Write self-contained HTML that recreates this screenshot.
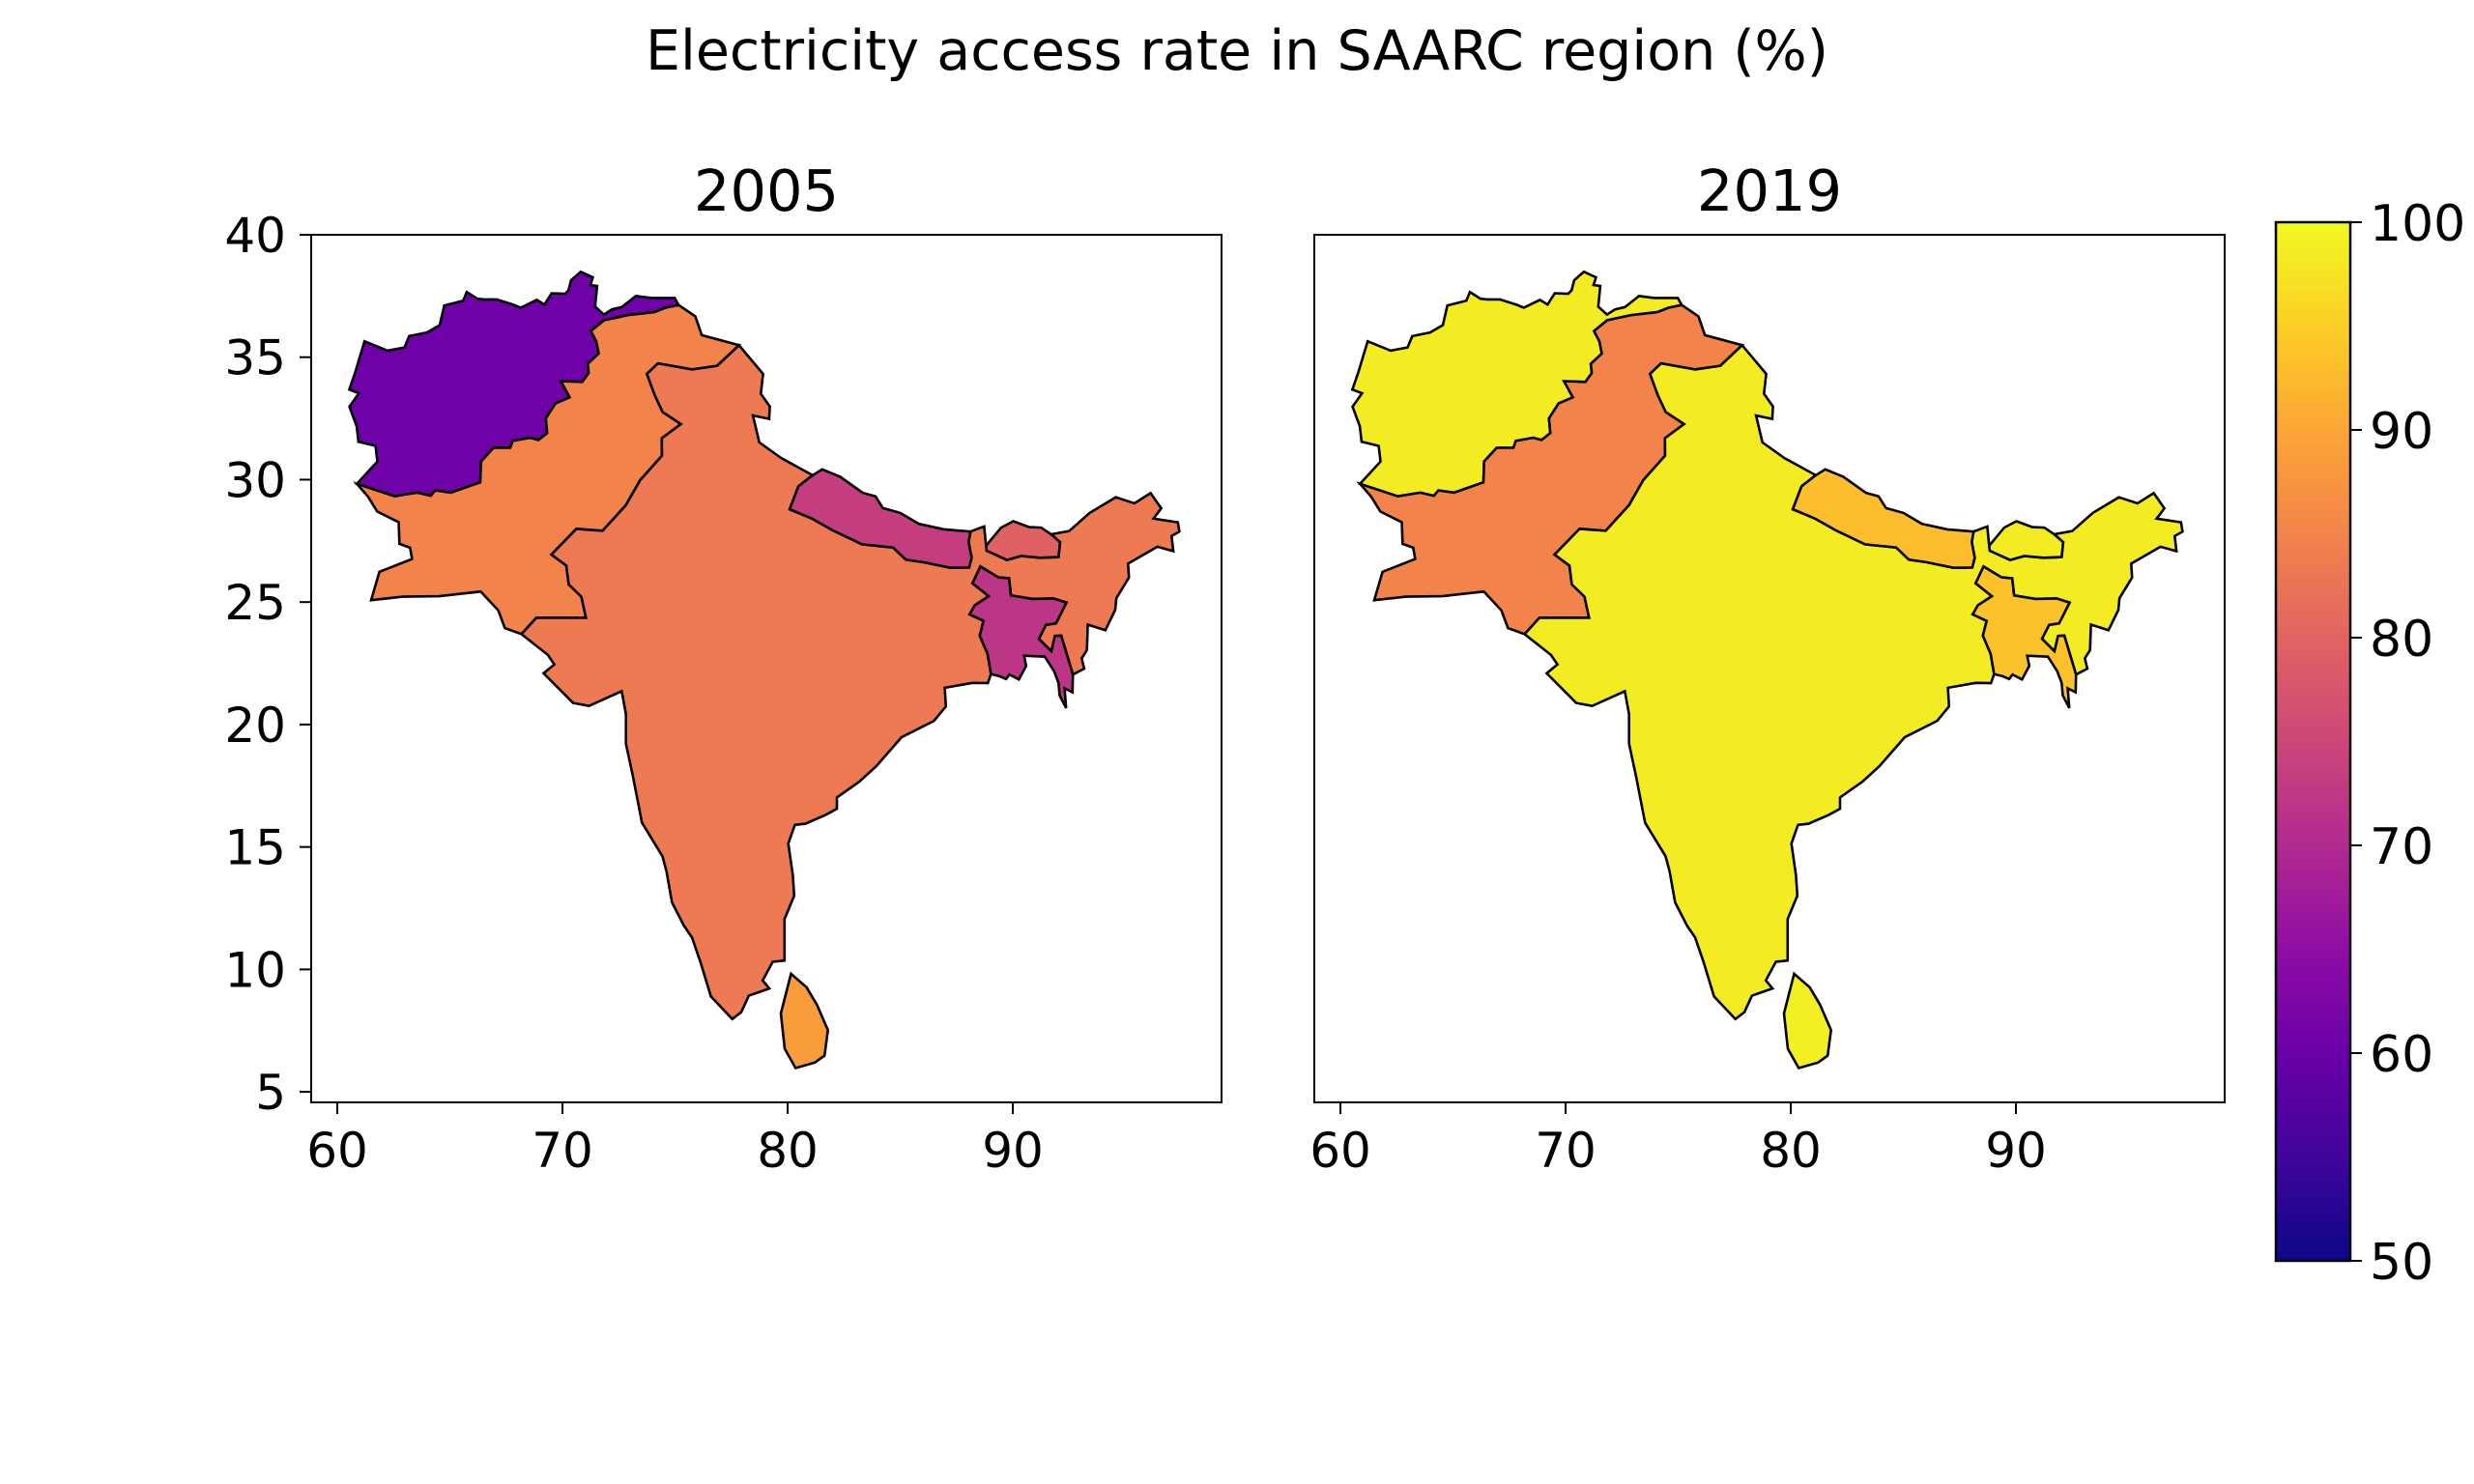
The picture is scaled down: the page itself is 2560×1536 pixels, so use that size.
<!DOCTYPE html>
<html><head><meta charset="utf-8"><style>
html,body{margin:0;padding:0;background:#fff}
svg{display:block;font-family:"DejaVu Sans","Liberation Sans",sans-serif}
</style></head><body>
<svg id="chart" width="2560" height="1536" viewBox="0 0 2560 1536">
<defs>
<linearGradient id="plasma" x1="0" y1="1" x2="0" y2="0">
<stop offset="0" stop-color="#0d0887"/><stop offset="0.1" stop-color="#41049d"/><stop offset="0.2" stop-color="#6a00a8"/><stop offset="0.3" stop-color="#8f0da4"/><stop offset="0.4" stop-color="#b12a90"/><stop offset="0.5" stop-color="#cc4778"/><stop offset="0.6" stop-color="#e16462"/><stop offset="0.7" stop-color="#f2844b"/><stop offset="0.8" stop-color="#fca636"/><stop offset="0.9" stop-color="#fcce25"/><stop offset="1" stop-color="#f0f921"/>
</linearGradient>
</defs>
<text x="1280" y="72" font-size="57" text-anchor="middle">Electricity access rate in SAARC region (%)</text>
</svg>
<script>
const countries = ["Afghanistan","Pakistan","India","Nepal","Bhutan","Bangladesh","Sri Lanka"];
const values2005 = [60.5, 85, 83.5, 73.5, 79.5, 72, 88.5];
const values2019 = [98.5, 85, 98.5, 93, 98.5, 93.5, 99];
const years = ["2005","2019"];
const xTicks = [60,70,80,90];
const yTicks = [5,10,15,20,25,30,35,40];
const cbTicks = [50,60,70,80,90,100];

const shapes = {
"Afghanistan":[[66.52,37.36],[67.08,37.36],[67.83,37.14],[68.14,37.02],[68.86,37.34],[69.2,37.15],[69.52,37.61],[70.12,37.59],[70.27,37.74],[70.38,38.14],[70.81,38.49],[71.35,38.26],[71.24,37.95],[71.54,37.91],[71.45,37.07],[71.84,36.74],[72.19,36.95],[72.64,37.05],[73.26,37.5],[73.95,37.42],[74.98,37.42],[75.16,37.13],[74.58,37.02],[74.07,36.84],[72.92,36.72],[71.85,36.51],[71.26,36.07],[71.5,35.65],[71.61,35.15],[71.12,34.73],[71.16,34.35],[70.88,33.99],[69.93,34.02],[70.32,33.36],[69.69,33.11],[69.26,32.5],[69.32,31.9],[68.93,31.62],[68.56,31.71],[67.79,31.58],[67.68,31.3],[66.94,31.3],[66.38,30.74],[66.35,29.89],[65.05,29.47],[64.35,29.56],[64.15,29.34],[63.55,29.47],[62.55,29.32],[60.87,29.83],[61.78,30.74],[61.7,31.38],[60.94,31.55],[60.86,32.18],[60.54,32.98],[60.96,33.53],[60.53,33.68],[60.8,34.4],[61.21,35.65],[62.23,35.27],[62.98,35.4],[63.19,35.86],[63.98,36.01],[64.55,36.31],[64.75,37.11],[65.59,37.31],[65.75,37.66],[66.22,37.39]],
"Pakistan":[[75.16,37.13],[75.9,36.67],[76.19,35.9],[77.84,35.49],[76.87,34.65],[75.76,34.5],[74.24,34.75],[73.75,34.32],[74.1,33.44],[74.45,32.76],[75.26,32.27],[74.41,31.69],[74.42,30.98],[73.45,29.98],[72.82,28.96],[71.78,27.91],[70.62,27.99],[69.51,26.94],[70.17,26.49],[70.28,25.72],[70.84,25.22],[71.04,24.36],[68.84,24.36],[68.18,23.69],[67.44,23.94],[67.15,24.66],[66.37,25.43],[64.53,25.24],[62.91,25.22],[61.5,25.08],[61.87,26.24],[63.32,26.76],[63.23,27.22],[62.76,27.38],[62.73,28.26],[61.77,28.7],[61.37,29.3],[60.87,29.83],[62.55,29.32],[63.55,29.47],[64.15,29.34],[64.35,29.56],[65.05,29.47],[66.35,29.89],[66.38,30.74],[66.94,31.3],[67.68,31.3],[67.79,31.58],[68.56,31.71],[68.93,31.62],[69.32,31.9],[69.26,32.5],[69.69,33.11],[70.32,33.36],[69.93,34.02],[70.88,33.99],[71.16,34.35],[71.12,34.73],[71.61,35.15],[71.5,35.65],[71.26,36.07],[71.85,36.51],[72.92,36.72],[74.07,36.84],[74.58,37.02]],
"India":[[77.84,35.49],[78.91,34.32],[78.81,33.51],[79.21,32.99],[79.18,32.48],[78.46,32.62],[78.74,31.52],[79.72,30.88],[81.11,30.18],[80.48,29.73],[80.09,28.79],[81.06,28.42],[82.0,27.93],[83.3,27.36],[84.68,27.23],[85.25,26.73],[86.02,26.63],[87.23,26.4],[88.06,26.41],[88.17,26.81],[88.04,27.45],[88.12,27.88],[88.73,28.09],[88.81,27.3],[88.84,27.1],[89.74,26.72],[90.37,26.88],[91.22,26.81],[92.03,26.84],[92.1,27.45],[91.7,27.77],[92.5,27.9],[93.41,28.64],[94.57,29.28],[95.4,29.03],[96.12,29.45],[96.59,28.83],[96.25,28.41],[97.33,28.26],[97.4,27.88],[97.05,27.7],[97.13,27.08],[96.42,27.26],[95.12,26.57],[95.16,26.0],[94.6,25.16],[94.55,24.68],[94.11,23.85],[93.33,24.08],[93.29,23.04],[93.06,22.7],[93.17,22.28],[92.67,22.04],[92.15,23.63],[91.87,23.62],[91.71,22.99],[91.16,23.5],[91.47,24.07],[91.92,24.13],[92.38,24.98],[91.8,25.15],[90.87,25.13],[89.92,25.27],[89.83,25.97],[89.36,26.01],[88.56,26.45],[88.21,25.77],[88.93,25.24],[88.31,24.87],[88.08,24.5],[88.7,24.23],[88.53,23.63],[88.88,22.88],[89.03,22.06],[88.89,21.69],[88.21,21.7],[86.98,21.5],[87.03,20.74],[86.5,20.15],[85.06,19.48],[83.94,18.3],[83.19,17.67],[82.19,17.02],[82.19,16.56],[81.69,16.31],[80.79,15.95],[80.32,15.9],[80.03,15.14],[80.23,13.84],[80.29,13.01],[79.86,12.06],[79.86,10.36],[79.34,10.31],[78.89,9.55],[79.19,9.22],[78.28,8.93],[77.94,8.25],[77.54,7.97],[76.59,8.9],[76.13,10.3],[75.75,11.31],[75.4,11.78],[74.86,12.74],[74.62,13.99],[74.44,14.62],[73.53,15.99],[73.12,17.93],[72.82,19.21],[72.82,20.42],[72.63,21.36],[71.18,20.76],[70.47,20.88],[69.16,22.09],[69.64,22.45],[69.35,22.84],[68.18,23.69],[68.84,24.36],[71.04,24.36],[70.84,25.22],[70.28,25.72],[70.17,26.49],[69.51,26.94],[70.62,27.99],[71.78,27.91],[72.82,28.96],[73.45,29.98],[74.42,30.98],[74.41,31.69],[75.26,32.27],[74.45,32.76],[74.1,33.44],[73.75,34.32],[74.24,34.75],[75.76,34.5],[76.87,34.65]],
"Nepal":[[88.12,27.88],[88.04,27.45],[88.17,26.81],[88.06,26.41],[87.23,26.4],[86.02,26.63],[85.25,26.73],[84.68,27.23],[83.3,27.36],[82.0,27.93],[81.06,28.42],[80.09,28.79],[80.48,29.73],[81.11,30.18],[81.53,30.42],[82.33,30.12],[83.34,29.46],[83.9,29.32],[84.23,28.84],[85.01,28.64],[85.82,28.2],[86.95,27.97]],
"Bhutan":[[90.02,28.3],[90.73,28.06],[91.26,28.04],[91.7,27.77],[92.1,27.45],[92.03,26.84],[91.22,26.81],[90.37,26.88],[89.74,26.72],[88.84,27.1],[88.81,27.3],[89.48,28.04]],
"Bangladesh":[[92.67,22.04],[92.65,21.32],[92.3,21.48],[92.37,20.67],[92.08,21.19],[92.03,21.7],[91.83,22.18],[91.42,22.77],[90.5,22.81],[90.59,22.39],[90.27,21.84],[89.85,22.04],[89.7,21.86],[89.42,21.97],[89.03,22.06],[88.88,22.88],[88.53,23.63],[88.7,24.23],[88.08,24.5],[88.31,24.87],[88.93,25.24],[88.21,25.77],[88.56,26.45],[89.36,26.01],[89.83,25.97],[89.92,25.27],[90.87,25.13],[91.8,25.15],[92.38,24.98],[91.92,24.13],[91.47,24.07],[91.16,23.5],[91.71,22.99],[91.87,23.62],[92.15,23.63]],
"Sri Lanka":[[81.79,7.52],[81.64,6.48],[81.22,6.2],[80.35,5.97],[79.87,6.76],[79.7,8.2],[80.15,9.82],[80.84,9.27],[81.3,8.56]]
};

const stops = ["#0d0887","#41049d","#6a00a8","#8f0da4","#b12a90","#cc4778","#e16462","#f2844b","#fca636","#fcce25","#f0f921"];
function hex(c){return [1,3,5].map(i=>parseInt(c.substr(i,2),16));}
function plasma(v){
  let t=Math.max(0,Math.min(1,(v-50)/50))*10;
  let i=Math.min(9,Math.floor(t)), f=t-i;
  let a=hex(stops[i]), b=hex(stops[i+1]);
  return "rgb("+a.map((x,k)=>Math.round(x+(b[k]-x)*f)).join(",")+")";
}

const NS="http://www.w3.org/2000/svg";
const svgRoot=document.getElementById('chart');
function mk(tag,attrs,parent){const e=document.createElementNS(NS,tag);for(const k in attrs)e.setAttribute(k,attrs[k]);(parent||svgRoot).appendChild(e);return e;}

const panelLeft=[322,1360], panelW=942, axTop=243, axBottom=1141;
const lonMin=58.84, lonMax=99.27, latMin=4.57, latMax=40;
const allValues=[values2005,values2019];

years.forEach((yr,p)=>{
  const x0=panelLeft[p];
  const xs=lon=>x0+(lon-lonMin)/(lonMax-lonMin)*panelW;
  const ys=lat=>axBottom-(lat-latMin)/(latMax-latMin)*(axBottom-axTop);
  const g=mk('g',{});
  
  
  const t=mk('text',{x:x0+panelW/2,y:218,'font-size':59,'text-anchor':'middle'},g);
  t.textContent=yr;
  
  
  countries.forEach((c,i)=>{
    const d=shapes[c].map((pt,k)=>(k?'L':'M')+xs(pt[0]).toFixed(1)+','+ys(pt[1]).toFixed(1)).join('')+'Z';
    const path=mk('path',{d:d,fill:plasma(allValues[p][i]),stroke:'#000','stroke-width':2.6,'stroke-linejoin':'miter'},g);
    
    
  });
  const fr=mk('rect',{x:x0,y:axTop,width:panelW,height:axBottom-axTop,fill:'none',stroke:'#000','stroke-width':2},g);
  
  
  xTicks.forEach(v=>{
    const x=xs(v);
    const tk=mk('line',{x1:x,x2:x,y1:axBottom,y2:axBottom+12,stroke:'#000','stroke-width':2},g);
    
    
    const tl=mk('text',{x:x,y:1208,'font-size':50,'text-anchor':'middle'},g);
    tl.textContent=v;
    
    
  });
  if(p===0){
    yTicks.forEach(v=>{
      const y=ys(v);
      const tk=mk('line',{x1:x0-12,x2:x0,y1:y,y2:y,stroke:'#000','stroke-width':2},g);
      
      
      const tl=mk('text',{x:x0-26,y:y+18,'font-size':50,'text-anchor':'end'},g);
      tl.textContent=v;
      
      
    });
  }
});

const cbX=2355, cbW=77, cbTop=230, cbBot=1305;
const cb=mk('g',{});


const cbr=mk('rect',{x:cbX,y:cbTop,width:cbW,height:cbBot-cbTop,fill:'url(#plasma)',stroke:'#000','stroke-width':2.5},cb);


cbTicks.forEach(v=>{
  const y=cbBot-(v-50)/50*(cbBot-cbTop);
  const tk=mk('line',{x1:cbX+cbW,x2:cbX+cbW+12,y1:y,y2:y,stroke:'#000','stroke-width':2},cb);
  
  
  const tl=mk('text',{x:cbX+cbW+20,y:y+19,'font-size':52},cb);
  tl.textContent=v;
  
  
});
</script>
</body></html>
